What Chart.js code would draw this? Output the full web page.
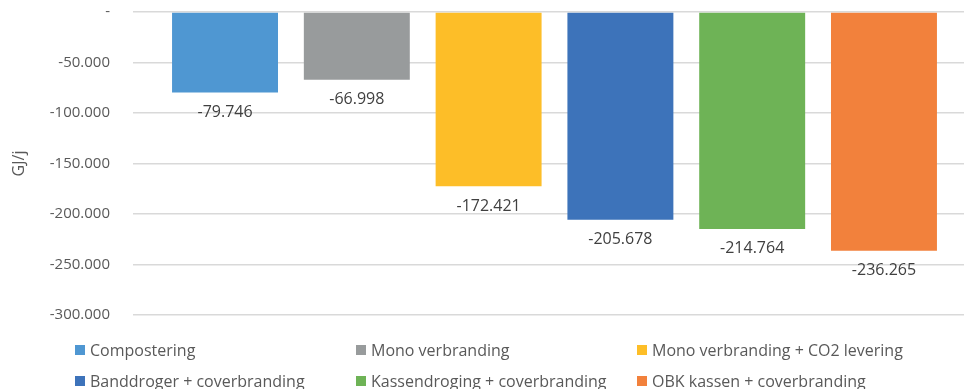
<!DOCTYPE html>
<html>
<head>
<meta charset="utf-8">
<script src="https://cdn.jsdelivr.net/npm/chart.js@4"></script>
<style>
    html, body { margin: 0; padding: 0; background: #fff; }
    #wrap { position: relative; width: 964px; height: 389px; overflow: hidden; }
    #chart { position: absolute; left: 0; top: -20px; }
    #legend {
        position: absolute; left: 75px; top: 340px;
        display: grid; grid-template-columns: 281px 281px 281px;
        row-gap: 11px;
        font: 16px 'Open Sans', sans-serif; color: #595959;
    }
    .item { display: flex; align-items: center; height: 20px; line-height: 20px; white-space: nowrap; }
    .box { width: 10px; height: 10px; margin-right: 5px; flex: none; }
</style>
</head>
<body>
<div id="wrap">
    <canvas id="chart" width="990" height="367"></canvas>
    <div id="legend"></div>
</div>
<script>
const seriesNames = [
    'Compostering',
    'Mono verbranding',
    'Mono verbranding + CO2 levering',
    'Banddroger + coverbranding',
    'Kassendroging + coverbranding',
    'OBK kassen + coverbranding'
];
const seriesValues = [-79746, -66998, -172421, -205678, -214764, -236265];
const seriesColors = ['#4f97d2', '#989b9c', '#fdbe28', '#3d73ba', '#6eb356', '#f2813c'];
const yTicks = [0, -50000, -100000, -150000, -200000, -250000, -300000];

// dots as thousands separator, zero shown as a dash
function formatNumber(v) {
    if (v === 0) return '-';
    const s = Math.abs(Math.round(v)).toString().replace(/\B(?=(\d{3})+(?!\d))/g, '.');
    return (v < 0 ? '-' : '') + s;
}

const valueLabels = {
    id: 'valueLabels',
    afterDatasetsDraw(chart) {
        const ctx = chart.ctx;
        ctx.save();
        ctx.font = "16px 'Open Sans', sans-serif";
        ctx.fillStyle = '#404040';
        ctx.textAlign = 'center';
        ctx.textBaseline = 'middle';
        chart.data.datasets.forEach((ds, i) => {
            chart.getDatasetMeta(i).data.forEach((bar, j) => {
                ctx.fillText(formatNumber(ds.data[j]), bar.x, bar.y + 20);
            });
        });
        ctx.restore();
    }
};

Chart.defaults.font.family = "'Open Sans', sans-serif";

new Chart(document.getElementById('chart'), {
    type: 'bar',
    data: {
        labels: [''],
        datasets: seriesNames.map((name, i) => ({
            label: name,
            data: [seriesValues[i]],
            backgroundColor: seriesColors[i],
            categoryPercentage: 0.938,
            barPercentage: 0.804
        }))
    },
    options: {
        responsive: false,
        animation: false,
        layout: { padding: { left: 0, right: 14, top: 12, bottom: 16 } },
        plugins: {
            legend: { display: false },
            tooltip: { enabled: false }
        },
        scales: {
            x: { display: false },
            y: {
                min: Math.min(...yTicks),
                max: Math.max(...yTicks),
                afterBuildTicks: scale => { scale.ticks = yTicks.map(v => ({ value: v })); },
                afterFit: scale => { scale.width = 133; },
                grid: { color: '#d9d9d9', lineWidth: 1.5, drawTicks: false },
                border: { display: false },
                ticks: {
                    padding: 23,
                    color: '#595959',
                    font: { size: 15 },
                    callback: v => formatNumber(v)
                },
                title: {
                    display: true,
                    text: 'GJ/j',
                    color: '#595959',
                    font: { size: 16 },
                    padding: { top: 10, bottom: 0 }
                }
            }
        }
    },
    plugins: [valueLabels]
});

// legend laid out in three columns
const legend = document.getElementById('legend');
seriesNames.forEach((name, i) => {
    const item = document.createElement('div');
    item.className = 'item';
    const box = document.createElement('span');
    box.className = 'box';
    box.style.background = seriesColors[i];
    item.appendChild(box);
    item.appendChild(document.createTextNode(name));
    legend.appendChild(item);
});
</script>
</body>
</html>
